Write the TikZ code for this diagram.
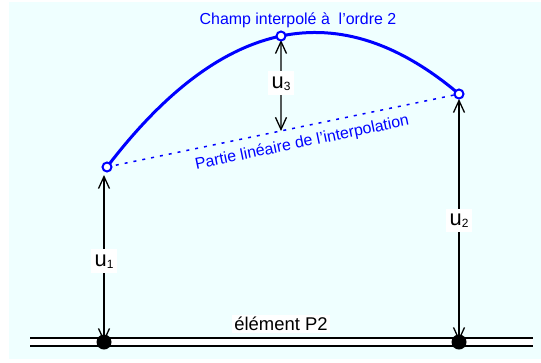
\documentclass[tikz,border=0pt]{standalone}
\usepackage{fontspec}
\setmainfont{Liberation Sans}
\usetikzlibrary{arrows.meta,calc}
\definecolor{bgcyan}{RGB}{239,255,255}
\definecolor{champ}{RGB}{0,0,255}

\begin{document}
\begin{tikzpicture}[x=1bp,y=-1bp,
  nd/.style={circle,draw=champ,fill=white,line width=2bp,inner sep=0pt,minimum size=9bp},
  gnd/.style={circle,fill=black,inner sep=0pt,minimum size=15bp},
  dim/.style={{Straight Barb[length=12bp,width=11bp]}-{Straight Barb[length=12bp,width=11bp]},line width=1.3bp,draw=black},
  ulab/.style={fill=white,inner xsep=4bp,inner ysep=5bp,font=\fontsize{22}{24}\selectfont},
  blab/.style={text=champ,font=\fontsize{16}{18}\selectfont,inner sep=1bp}
]
\fill[bgcyan] (9,2) rectangle (541,359);
\useasboundingbox (0,0) rectangle (541,362);
% element
\draw[line width=2.2bp,double=white,double distance=5.5bp] (30,342) -- (533,342);
\node[fill=white,inner sep=2bp,font=\fontsize{18.5}{20}\selectfont] (elt) at (281,324) {élément P2};
\node[gnd] (d1) at (104,342) {};
\node[gnd] (d2) at (459,342) {};
% interpolation points
\coordinate (p1) at (107,167);
\coordinate (p2) at (459,94);
\coordinate (p3) at (281,36);
\coordinate (c) at ($2*(p3)-0.5*(p1)-0.5*(p2)$);
\coordinate (q) at (p3 |- d1);
\coordinate (m) at (intersection of p1--p2 and p3--q);
\draw[champ,line width=1.5bp,dash pattern=on 3bp off 6bp] (p1) -- (p2)
  node[blab,pos=0.545,sloped,below=7bp] (lin) {Partie linéaire de l'interpolation};
\draw[champ,line width=3bp] (p1) .. controls ($(p1)!2/3!(c)$) and ($(p2)!2/3!(c)$) .. (p2);
\node[blab] (ch) at (298,20) {Champ interpolé à\ \ l'ordre 2};
% dimensions
\draw[dim,shorten >=1bp] (d1.center) -- ($(d1 |- p1)+(0,7)$) node[ulab,pos=0.48] (u1) {u\raisebox{-0.2ex}{\fontsize{12}{13}\selectfont 1}};
\draw[dim,shorten <=1bp,shorten >=5bp] (d2.center) -- (p2) node[ulab,pos=0.49] (u2) {u\raisebox{-0.2ex}{\fontsize{12}{13}\selectfont 2}};
\draw[dim,shorten >=4bp] (m) -- (p3) node[ulab,midway] (u3) {u\raisebox{-0.2ex}{\fontsize{12}{13}\selectfont 3}};
\node[nd] (n1) at (p1) {};
\node[nd] (n2) at (p2) {};
\node[nd] (n3) at (p3) {};
\end{tikzpicture}
\end{document}
